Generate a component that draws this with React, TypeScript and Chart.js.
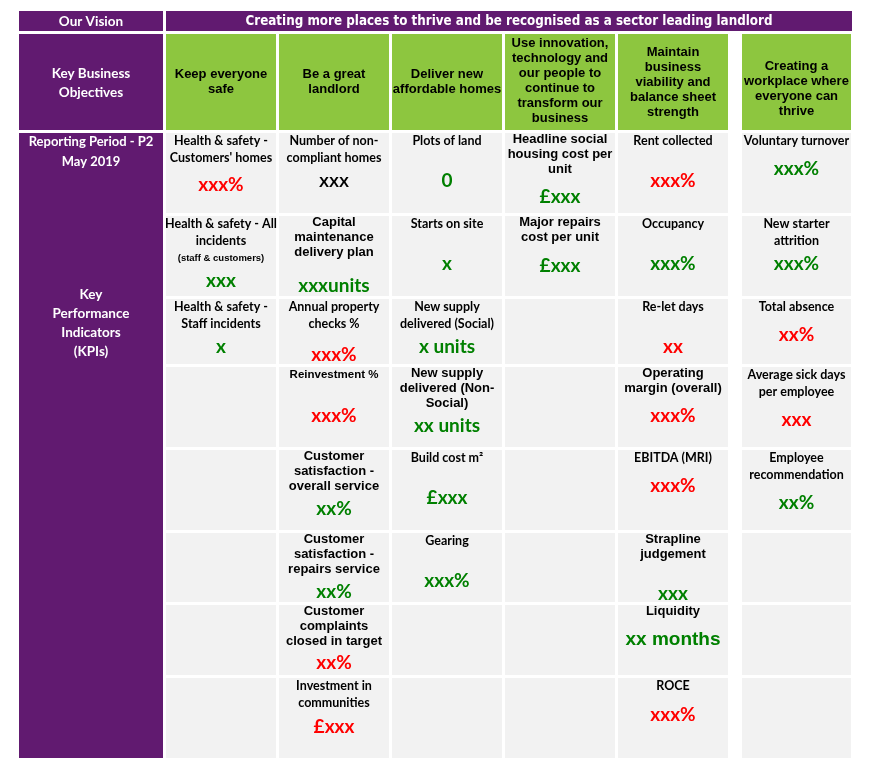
import React, { useEffect, useRef } from "react";
import { Chart, registerables } from "chart.js";

Chart.register(...registerables);

// ---------- DATA ----------
const visionLabel = "Our Vision";
const visionText = "Creating more places to thrive and be recognised as a sector leading landlord";
const objectivesTitle = "Key Business\nObjectives";
const periodLabel = "Reporting Period - P2\nMay 2019";
const kpiTitle = "Key\nPerformance\nIndicators\n(KPIs)";

const objectives = [
  "Keep everyone\nsafe",
  "Be a great\nlandlord",
  "Deliver new\naffordable homes",
  "Use innovation,\ntechnology and\nour people to\ncontinue to\ntransform our\nbusiness",
  "Maintain\nbusiness\nviability and\nbalance sheet\nstrength",
  "Creating a\nworkplace where\neveryone can\nthrive",
];

const safeLabels = ["Health & safety -\nCustomers' homes", "Health & safety - All\nincidents\n(staff & customers)", "Health & safety -\nStaff incidents"];
const safeValues = ["xxx%", "xxx", "x"];
const safeStatus = ["red", "green", "green"];

const landlordLabels = [
  "Number of non-\ncompliant homes",
  "Capital\nmaintenance\ndelivery plan",
  "Annual property\nchecks %",
  "Reinvestment %",
  "Customer\nsatisfaction -\noverall service",
  "Customer\nsatisfaction -\nrepairs service",
  "Customer\ncomplaints\nclosed in target",
  "Investment in\ncommunities",
];
const landlordValues = ["XXX", "xxxunits", "xxx%", "xxx%", "xx%", "xx%", "xx%", "£xxx"];
const landlordStatus = ["neutral", "green", "red", "red", "green", "green", "red", "red"];

const homesLabels = ["Plots of land", "Starts on site", "New supply\ndelivered (Social)", "New supply\ndelivered (Non-\nSocial)", "Build cost m²", "Gearing"];
const homesValues = ["0", "x", "x units", "xx units", "£xxx", "xxx%"];
const homesStatus = ["green", "green", "green", "green", "green", "green"];

const innovationLabels = ["Headline social\nhousing cost per\nunit", "Major repairs\ncost per unit"];
const innovationValues = ["£xxx", "£xxx"];
const innovationStatus = ["green", "green"];

const viabilityLabels = ["Rent collected", "Occupancy", "Re-let days", "Operating\nmargin (overall)", "EBITDA (MRI)", "Strapline\njudgement", "Liquidity", "ROCE"];
const viabilityValues = ["xxx%", "xxx%", "xx", "xxx%", "xxx%", "xxx", "xx months", "xxx%"];
const viabilityStatus = ["red", "green", "red", "red", "red", "green", "green", "red"];

const workplaceLabels = ["Voluntary turnover", "New starter\nattrition", "Total absence", "Average sick days\nper employee", "Employee\nrecommendation"];
const workplaceValues = ["xxx%", "xxx%", "xx%", "xxx", "xx%"];
const workplaceStatus = ["green", "green", "red", "red", "green"];

const kpiLabels = [safeLabels, landlordLabels, homesLabels, innovationLabels, viabilityLabels, workplaceLabels];
const kpiValues = [safeValues, landlordValues, homesValues, innovationValues, viabilityValues, workplaceValues];
const kpiStatus = [safeStatus, landlordStatus, homesStatus, innovationStatus, viabilityStatus, workplaceStatus];

// ---------- LAYOUT (table geometry in scale units) ----------
const W = 870;
const H = 776;
const LEFT_COL: [number, number] = [19, 163];
const HEADER_RIGHT = 852;
const VISION_ROW: [number, number] = [11, 31];
const OBJ_ROW: [number, number] = [34, 130];
const COLS: [number, number][] = [
  [166, 276], [279, 389], [392, 502], [505, 615], [618, 728], [742, 851],
];
const ROWS: [number, number][] = [
  [133, 213], [216, 296], [299, 364], [367, 447], [450, 530], [533, 602], [605, 675], [678, 758],
];
const OBJ_CENTER = [81.5, 81.5, 81.5, 81, 82, 88.5];
// label font style per cell: A = calibri-like, B = sans, C = small sans, H = with small note line
const LABEL_STYLE = [
  ["A", "H", "A"],
  ["A", "B", "A", "C", "B", "B", "B", "A"],
  ["A", "A", "A", "B", "A", "A"],
  ["B", "B"],
  ["A", "A", "A", "B", "A", "B", "B", "A"],
  ["A", "A", "A", "A", "A"],
];
// value baseline offset from cell top
const VALUE_BASE = [
  [58, 71, 54],
  [54, 76, 62, 55, 65, 65, 64, 55],
  [54, 54, 54, 65, 54, 54],
  [70, 56],
  [54, 54, 54, 55, 42, 67, 40, 43],
  [42, 54, 42, 59, 59],
];

const PURPLE = "#611A70";
const GREEN_FILL = "#8DC63F";
const GREY = "#F2F2F2";
const STATUS_COLORS: Record<string, string> = { red: "#FF0000", green: "#008000", neutral: "#000000" };

const FONT_CAL = "Lato, 'Open Sans', sans-serif";
const FONT_SANS = "'Liberation Sans', Arial, sans-serif";

const tablePlugin = {
  id: "kpiTable",
  beforeDatasetsDraw(chart: any) {
    const ctx: CanvasRenderingContext2D = chart.ctx;
    const xs = chart.scales.x;
    const ys = chart.scales.y;
    const px = (v: number) => xs.getPixelForValue(v);
    const py = (v: number) => ys.getPixelForValue(v);
    const rect = (x0: number, x1: number, y0: number, y1: number, color: string) => {
      ctx.fillStyle = color;
      ctx.fillRect(px(x0), py(y0), px(x1) - px(x0), py(y1) - py(y0));
    };
    const text = (s: string, x: number, y: number, font: string, color: string, baseline: CanvasTextBaseline = "middle", maxW?: number) => {
      ctx.font = font;
      ctx.fillStyle = color;
      ctx.textAlign = "center";
      ctx.textBaseline = baseline;
      if (maxW) {
        const w = ctx.measureText(s).width;
        if (w > maxW) {
          ctx.fillText(s, px(x), py(y), maxW);
          return;
        }
      }
      ctx.fillText(s, px(x), py(y));
    };
    const lines = (s: string, cx: number, cy: number, lh: number, font: string, color: string) => {
      const ls = s.split("\n");
      const start = cy - ((ls.length - 1) * lh) / 2;
      ls.forEach((l, i) => text(l, cx, start + i * lh, font, color));
    };

    ctx.save();
    // header row
    rect(LEFT_COL[0], LEFT_COL[1], VISION_ROW[0], VISION_ROW[1], PURPLE);
    rect(COLS[0][0], HEADER_RIGHT, VISION_ROW[0], VISION_ROW[1], PURPLE);
    const vy = (VISION_ROW[0] + VISION_ROW[1]) / 2 + 0.5;
    text(visionLabel, (LEFT_COL[0] + LEFT_COL[1]) / 2, vy, `bold 13.5px ${FONT_CAL}`, "#FFFFFF");
    text(visionText, (COLS[0][0] + HEADER_RIGHT) / 2, vy, `bold 13.5px 'DejaVu Sans', Verdana, sans-serif`, "#FFFFFF", "middle", 527);

    // objectives row
    rect(LEFT_COL[0], LEFT_COL[1], OBJ_ROW[0], OBJ_ROW[1], PURPLE);
    lines(objectivesTitle, (LEFT_COL[0] + LEFT_COL[1]) / 2, 83, 19, `bold 13.5px ${FONT_CAL}`, "#FFFFFF");
    COLS.forEach((c, i) => {
      rect(c[0], c[1], OBJ_ROW[0], OBJ_ROW[1], GREEN_FILL);
      lines(objectives[i], (c[0] + c[1]) / 2, OBJ_CENTER[i], 15, `bold 13px ${FONT_SANS}`, "#000000");
    });

    // KPI left column
    const kTop = ROWS[0][0];
    const kBot = ROWS[ROWS.length - 1][1];
    rect(LEFT_COL[0], LEFT_COL[1], kTop, kBot, PURPLE);
    const lcx = (LEFT_COL[0] + LEFT_COL[1]) / 2;
    lines(periodLabel, lcx, 152, 20, `bold 13px ${FONT_CAL}`, "#FFFFFF");
    lines(kpiTitle, lcx, 323, 19, `bold 13.5px ${FONT_CAL}`, "#FFFFFF");

    // KPI cells
    COLS.forEach((c, ci) => {
      const cx = (c[0] + c[1]) / 2;
      ROWS.forEach((r, ri) => {
        rect(c[0], c[1], r[0], r[1], GREY);
        const label = kpiLabels[ci][ri];
        if (label === undefined) return;
        const style = LABEL_STYLE[ci][ri];
        const ls = label.split("\n");
        ls.forEach((l, li) => {
          if (style === "A") {
            text(l, cx, r[0] + 8 + li * 17, `bold 12.5px ${FONT_CAL}`, "#000000");
          } else if (style === "B") {
            text(l, cx, r[0] + 6.5 + li * 15, `bold 13px ${FONT_SANS}`, "#000000");
          } else if (style === "C") {
            text(l, cx, r[0] + 8 + li * 17, `bold 11.5px ${FONT_SANS}`, "#000000");
          } else {
            if (li < 2) text(l, cx, r[0] + 8 + li * 17, `bold 12.5px ${FONT_CAL}`, "#000000");
            else text(l, cx, r[0] + 42.5, `bold 9.5px ${FONT_SANS}`, "#000000");
          }
        });
        const v = kpiValues[ci][ri];
        const isCaps = v === v.toUpperCase() && /X/.test(v);
        const isArial = v.indexOf("months") >= 0;
        const font = isCaps
          ? `bold 15px ${FONT_SANS}`
          : isArial
          ? `bold 19px ${FONT_SANS}`
          : `bold 19px ${FONT_CAL}`;
        text(v, cx, r[0] + VALUE_BASE[ci][ri], font, STATUS_COLORS[kpiStatus[ci][ri]], "alphabetic");
      });
    });
    ctx.restore();
  },
};

export default function App() {
  const canvasRef = useRef<HTMLCanvasElement | null>(null);

  useEffect(() => {
    document.body.style.margin = "0";
    const canvas = canvasRef.current;
    if (!canvas) return;
    const chart = new Chart(canvas, {
      type: "scatter",
      data: { datasets: [{ data: [], pointRadius: 0 }] },
      options: {
        animation: false,
        responsive: false,
        devicePixelRatio: 1,
        layout: { padding: 0 },
        plugins: { legend: { display: false }, tooltip: { enabled: false } },
        events: [],
        scales: {
          x: { type: "linear", min: 0, max: W, display: false },
          y: { type: "linear", min: 0, max: H, reverse: true, display: false },
        },
      },
      plugins: [tablePlugin],
    });
    return () => chart.destroy();
  }, []);

  return (
    <div style={{ position: "fixed", left: 0, top: 0, width: W, height: H, background: "#FFFFFF" }}>
      <canvas ref={canvasRef} width={W} height={H} style={{ display: "block" }} />
    </div>
  );
}
